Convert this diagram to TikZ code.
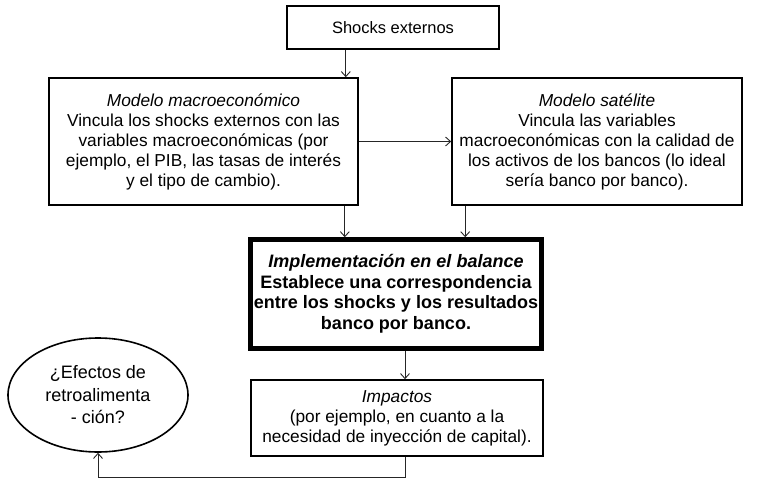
\documentclass[tikz,border=0pt]{standalone}
\usepackage{fontspec}
\setmainfont{Liberation Sans}
\usetikzlibrary{shapes.geometric,positioning,arrows.meta}

\begin{document}
\begin{tikzpicture}[x=1pt,y=-1pt,
  box/.style={draw,line width=1.6pt,align=center,inner sep=0pt,
    font=\fontsize{17.3}{20}\selectfont},
  bigbox/.style={box,line width=4.5pt,font=\fontsize{18}{20.5}\selectfont\bfseries},
  link/.style={draw=black!85,line width=0.9pt,-{Straight Barb[length=5pt,width=9pt]}}]
\useasboundingbox (0,0) rectangle (758,482);
\node[box,minimum width=212,minimum height=43,font=\fontsize{16.5}{19}\selectfont] (shocks) at (393,27.5) {Shocks externos}; % Box.shocks
\node[box,minimum width=309,minimum height=127] (macro) at (203.5,141.5)
  {\textit{Modelo macroeconómico}\\ Vincula los shocks externos con las\\ variables macroeconómicas (por\\ ejemplo, el PIB, las tasas de interés\\ y el tipo de cambio).}; % Box.macro
\node[box,minimum width=290,minimum height=127] (sat) at (597,141.5)
  {\textit{Modelo satélite}\\ Vincula las variables\\ macroeconómicas con la calidad de\\ los activos de los bancos (lo ideal\\ sería banco por banco).}; % Box.sat
\node[bigbox,minimum width=291,minimum height=109] (impl) at (396,294)
  {\textit{Implementación en el balance}\\ Establece una correspondencia\\ entre los shocks y los resultados\\ banco por banco.}; % Box.impl
\node[box,minimum width=292,minimum height=76] (imp) at (397,418)
  {\textit{Impactos}\\ (por ejemplo, en cuanto a la\\ necesidad de inyección de capital).}; % Box.imp
\node[box,ellipse,minimum width=180,minimum height=114,font=\fontsize{18}{22.5}\selectfont] (feed) at (98,395)
  {¿Efectos de\\ retroalimenta\\ - ción?}; % Box.feed
\draw[link] ([xshift=-13pt]macro.north east |- shocks.south) -- ([xshift=-13pt]macro.north east); % Link.shocks
\draw[link] (macro.east) -- (sat.west); % Link.macro
\draw[link] ([xshift=-14pt]macro.south east) -- ([xshift=-14pt]macro.south east |- impl.north); % Link.macro.impl
\draw[link] ([xshift=14pt]sat.south west) -- ([xshift=14pt]sat.south west |- impl.north); % Link.sat.impl
\draw[link] ([xshift=9pt]impl.south) -- ([xshift=9pt]impl.south |- imp.north); % Link.impl
\draw[link] ([xshift=8pt]imp.south) -- ++(0,21) -| (feed.south); % Link.feed
\end{tikzpicture}
\end{document}
